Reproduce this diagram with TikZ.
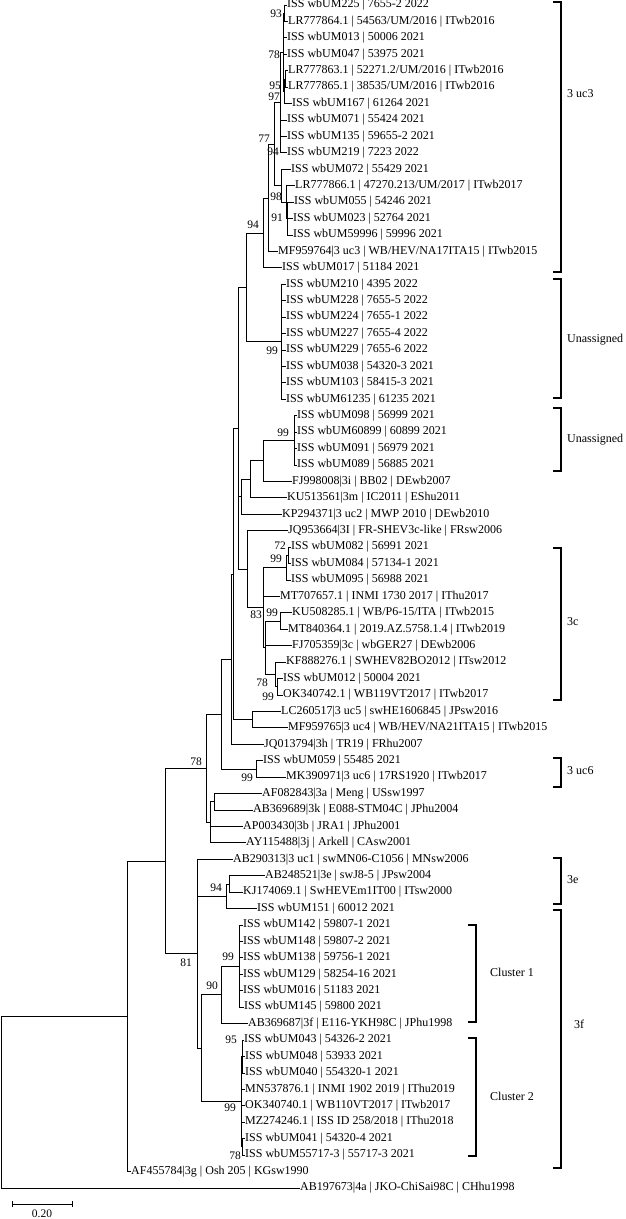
\documentclass[tikz,border=0pt]{standalone}
\usepackage{fontspec}
\setmainfont{Liberation Serif}
\begin{document}
\begin{tikzpicture}[x=1pt,y=-1pt,
  br/.style={line width=1pt,line cap=rect},
  leaf/.style={anchor=west,inner xsep=1pt,inner ysep=0pt,text height=8pt,text depth=2.5pt,font=\fontsize{12}{12}\selectfont},
  bs/.style={inner sep=0pt,font=\fontsize{11.5}{11.5}\selectfont},
  bk/.style={line width=1.3pt},
  grp/.style={anchor=west,inner sep=0pt,font=\fontsize{12}{12}\selectfont}]
\useasboundingbox (0,0) rectangle (626,1219);
\newcommand\lf[4]{\node[leaf] (#1) at (#2-1,#3) {#4};}
% leaves
\lf{l1}{287}{5.0}{ISS wbUM225 | 7655-2 2022}
\lf{l2}{288}{21.4}{LR777864.1 | 54563/UM/2016 | ITwb2016}
\lf{l3}{287}{37.9}{ISS wbUM013 | 50006 2021}
\lf{l4}{287}{54.3}{ISS wbUM047 | 53975 2021}
\lf{l5}{288}{70.7}{LR777863.1 | 52271.2/UM/2016 | ITwb2016}
\lf{l6}{288}{87.2}{LR777865.1 | 38535/UM/2016 | ITwb2016}
\lf{l7}{292}{103.6}{ISS wbUM167 | 61264 2021}
\lf{l8}{287}{120.0}{ISS wbUM071 | 55424 2021}
\lf{l9}{287}{136.4}{ISS wbUM135 | 59655-2 2021}
\lf{l10}{287}{152.9}{ISS wbUM219 | 7223 2022}
\lf{l11}{291}{169.3}{ISS wbUM072 | 55429 2021}
\lf{l12}{295}{185.7}{LR777866.1 | 47270.213/UM/2017 | ITwb2017}
\lf{l13}{294}{202.2}{ISS wbUM055 | 54246 2021}
\lf{l14}{293}{218.6}{ISS wbUM023 | 52764 2021}
\lf{l15}{293}{235.0}{ISS wbUM59996 | 59996 2021}
\lf{l16}{278}{251.5}{MF959764|3 uc3 | WB/HEV/NA17ITA15 | ITwb2015}
\lf{l17}{282}{267.9}{ISS wbUM017 | 51184 2021}
\lf{l18}{286}{284.3}{ISS wbUM210 | 4395 2022}
\lf{l19}{286}{300.7}{ISS wbUM228 | 7655-5 2022}
\lf{l20}{286}{317.2}{ISS wbUM224 | 7655-1 2022}
\lf{l21}{286}{333.6}{ISS wbUM227 | 7655-4 2022}
\lf{l22}{286}{350.0}{ISS wbUM229 | 7655-6 2022}
\lf{l23}{286}{366.5}{ISS wbUM038 | 54320-3 2021}
\lf{l24}{286}{382.9}{ISS wbUM103 | 58415-3 2021}
\lf{l25}{286}{399.3}{ISS wbUM61235 | 61235 2021}
\lf{l26}{297}{415.8}{ISS wbUM098 | 56999 2021}
\lf{l27}{297}{432.2}{ISS wbUM60899 | 60899 2021}
\lf{l28}{297}{448.6}{ISS wbUM091 | 56979 2021}
\lf{l29}{297}{465.0}{ISS wbUM089 | 56885 2021}
\lf{l30}{292}{481.5}{FJ998008|3i | BB02 | DEwb2007}
\lf{l31}{287}{497.9}{KU513561|3m | IC2011 | EShu2011}
\lf{l32}{282}{514.3}{KP294371|3 uc2 | MWP 2010 | DEwb2010}
\lf{l33}{288}{530.8}{JQ953664|3I | FR-SHEV3c-like | FRsw2006}
\lf{l34}{291}{547.2}{ISS wbUM082 | 56991 2021}
\lf{l35}{291}{563.6}{ISS wbUM084 | 57134-1 2021}
\lf{l36}{291}{580.1}{ISS wbUM095 | 56988 2021}
\lf{l37}{280}{596.5}{MT707657.1 | INMI 1730 2017 | IThu2017}
\lf{l38}{292}{612.9}{KU508285.1 | WB/P6-15/ITA | ITwb2015}
\lf{l39}{288}{629.3}{MT840364.1 | 2019.AZ.5758.1.4 | ITwb2019}
\lf{l40}{292}{645.8}{FJ705359|3c | wbGER27 | DEwb2006}
\lf{l41}{286}{662.2}{KF888276.1 | SWHEV82BO2012 | ITsw2012}
\lf{l42}{283}{678.6}{ISS wbUM012 | 50004 2021}
\lf{l43}{283}{695.1}{OK340742.1 | WB119VT2017 | ITwb2017}
\lf{l44}{281}{711.5}{LC260517|3 uc5 | swHE1606845 | JPsw2016}
\lf{l45}{288}{727.9}{MF959765|3 uc4 | WB/HEV/NA21ITA15 | ITwb2015}
\lf{l46}{264}{744.4}{JQ013794|3h | TR19 | FRhu2007}
\lf{l47}{263}{760.8}{ISS wbUM059 | 55485 2021}
\lf{l48}{286}{777.2}{MK390971|3 uc6 | 17RS1920 | ITwb2017}
\lf{l49}{262}{793.6}{AF082843|3a | Meng | USsw1997}
\lf{l50}{253}{810.1}{AB369689|3k | E088-STM04C | JPhu2004}
\lf{l51}{243}{826.5}{AP003430|3b | JRA1 | JPhu2001}
\lf{l52}{246}{842.9}{AY115488|3j | Arkell | CAsw2001}
\lf{l53}{233}{859.4}{AB290313|3 uc1 | swMN06-C1056 | MNsw2006}
\lf{l54}{265}{875.8}{AB248521|3e | swJ8-5 | JPsw2004}
\lf{l55}{243}{892.2}{KJ174069.1 | SwHEVEm1IT00 | ITsw2000}
\lf{l56}{257}{908.7}{ISS wbUM151 | 60012 2021}
\lf{l57}{243}{925.1}{ISS wbUM142 | 59807-1 2021}
\lf{l58}{243}{941.5}{ISS wbUM148 | 59807-2 2021}
\lf{l59}{243}{957.9}{ISS wbUM138 | 59756-1 2021}
\lf{l60}{243}{974.4}{ISS wbUM129 | 58254-16 2021}
\lf{l61}{243}{990.8}{ISS wbUM016 | 51183 2021}
\lf{l62}{244}{1007.2}{ISS wbUM145 | 59800 2021}
\lf{l63}{248}{1023.7}{AB369687|3f | E116-YKH98C | JPhu1998}
\lf{l64}{244}{1040.1}{ISS wbUM043 | 54326-2 2021}
\lf{l65}{245}{1056.5}{ISS wbUM048 | 53933 2021}
\lf{l66}{245}{1073.0}{ISS wbUM040 | 554320-1 2021}
\lf{l67}{245}{1089.4}{MN537876.1 | INMI 1902 2019 | IThu2019}
\lf{l68}{245}{1105.8}{OK340740.1 | WB110VT2017 | ITwb2017}
\lf{l69}{245}{1122.2}{MZ274246.1 | ISS ID 258/2018 | IThu2018}
\lf{l70}{245}{1138.7}{ISS wbUM041 | 54320-4 2021}
\lf{l71}{245}{1155.1}{ISS wbUM55717-3 | 55717-3 2021}
\lf{l72}{131}{1171.5}{AF455784|3g | Osh 205 | KGsw1990}
\lf{l73}{300}{1188.0}{AB197673|4a | JKO-ChiSai98C | CHhu1998}
% internal nodes
\coordinate (root) at (1.7,1102);
\coordinate (R1) at (127.7,1016.3);
\coordinate (R2) at (165,861.1);
\coordinate (N78) at (206.7,768.4);
\coordinate (X0) at (221.7,714.1);
\coordinate (X1) at (231.7,659.2);
\coordinate (Y) at (233.3,574.1);
\coordinate (Z) at (238.5,428.5);
\coordinate (G) at (246,287.6);
\coordinate (A) at (263,233);
\coordinate (B) at (268,198);
\coordinate (C) at (274,144.4);
\coordinate (T) at (280.5,102.6);
\coordinate (T1) at (283,52.3);
\coordinate (s93) at (284,13.2);
\coordinate (s97) at (284.5,91.3);
\coordinate (s95) at (285,79);
\coordinate (L) at (281.7,185.7);
\coordinate (P2) at (286,202.2);
\coordinate (s91) at (287.5,218.6);
\coordinate (U1) at (281.7,341.8);
\coordinate (Q3) at (241.7,496.9);
\coordinate (Q2) at (250,479.4);
\coordinate (Q1) at (263.3,460.9);
\coordinate (U2) at (294,440.4);
\coordinate (W) at (247.7,569.3);
\coordinate (C3) at (263.3,607.8);
\coordinate (A82) at (286,567.7);
\coordinate (s72) at (288,555.4);
\coordinate (D) at (265,647.8);
\coordinate (KM) at (280,621.1);
\coordinate (K2) at (275,674.5);
\coordinate (K3) at (277.5,686.9);
\coordinate (uc45) at (252,719.7);
\coordinate (uc6) at (256,769);
\coordinate (N3) at (210,822.4);
\coordinate (s3ak) at (214,801.9);
\coordinate (N81) at (197,953.9);
\coordinate (E0) at (226,896);
\coordinate (E1) at (229,884);
\coordinate (F0) at (201,1048.3);
\coordinate (F90) at (221,994.9);
\coordinate (Cl1) at (239,966.2);
\coordinate (Cl2) at (241.5,1101.7);
\coordinate (s95b) at (242.8,1056.5);
\coordinate (s78) at (242.5,1146.9);
% branches to internal nodes
\foreach \p/\c in {root/R1,R1/R2,R2/N78,R2/N81,N78/X0,N78/N3,X0/X1,X0/uc6,X1/Y,Y/Z,Y/uc45,
  Z/G,Z/Q3,Z/W,G/A,G/U1,A/B,B/C,C/T,C/L,T/T1,T1/s93,T1/s97,s97/s95,L/P2,P2/s91,
  Q3/Q2,Q2/Q1,Q1/U2,W/C3,C3/A82,C3/D,A82/s72,D/KM,D/K2,K2/K3,N3/s3ak,N81/E0,N81/F0,
  E0/E1,F0/F90,F0/Cl2,F90/Cl1,Cl2/s95b,Cl2/s78}
  {\draw[br] (\p) |- (\c);}
% branches to leaves
\foreach \p/\c in {root/l73,R1/l72,X1/l46,A/l17,B/l16,T/l8,T/l9,T/l10,T1/l3,T1/l4,
  s93/l1,s93/l2,s97/l7,s95/l5,s95/l6,L/l11,P2/l12,s91/l13,s91/l14,s91/l15,
  U1/l18,U1/l19,U1/l20,U1/l21,U1/l22,U1/l23,U1/l24,U1/l25,
  Q3/l32,Q2/l31,Q1/l30,U2/l26,U2/l27,U2/l28,U2/l29,W/l33,C3/l37,s72/l34,s72/l35,A82/l36,
  KM/l38,KM/l39,D/l40,K2/l41,K3/l42,K3/l43,uc45/l44,uc45/l45,uc6/l47,uc6/l48,
  s3ak/l49,s3ak/l50,N3/l51,N3/l52,N81/l53,E1/l54,E1/l55,E0/l56,
  Cl1/l57,Cl1/l58,Cl1/l59,Cl1/l60,Cl1/l61,Cl1/l62,F90/l63,
  s95b/l64,s95b/l65,s95b/l66,Cl2/l67,Cl2/l68,Cl2/l69,s78/l70,s78/l71}
  {\draw[br] (\p) |- (\c.west);}
% bootstrap values
\foreach \v/\x/\y in {93/276/14,78/274/55,95/275/86,97/274/97,77/264/139,94/273/152,
  98/276/197,91/277/218,94/253/225,99/272/351,99/283/433,72/280/546,99/276/559,
  83/256/615,99/272/613,78/262/683,99/268/697,78/196/762,99/247/778,94/216/888,
  81/186/963,99/228/957,90/212/986,95/231/1040,99/230/1108,78/235/1156}
  {\node[bs] at (\x,\y) {\v};}
% scale bar
\coordinate (sb1) at (12,1204);
\coordinate (sb2) at (72,1204);
\draw[br] (sb1) -- (sb2);
\draw[br] ([yshift=-2.5pt]sb1) -- ([yshift=2.5pt]sb1);
\draw[br] ([yshift=-2.5pt]sb2) -- ([yshift=2.5pt]sb2);
\node[bs] (sbl) at (42,1214) {0.20};
% group brackets
\foreach \a/\b/\ly/\t in {2/272/94/3 uc3,279/398/340/Unassigned,408/471/440/Unassigned,
  548/700/622/3c,758/787/771/3 uc6,858/904/880/3e}
  {\draw[bk] (553,\a) -- (561,\a) -- (561,\b) -- (553,\b);
   \node[grp] at (567,\ly) {\t};}
\draw[bk] (553,910) -- (561,910) -- (561,1168) -- (553,1168);
\node[grp] at (574,1024) {3f};
\draw[bk] (468,925) -- (476,925) -- (476,1022) -- (468,1022);
\node[grp] at (490,972) {Cluster 1};
\draw[bk] (468,1038) -- (476,1038) -- (476,1156) -- (468,1156);
\node[grp] at (490,1096) {Cluster 2};
\end{tikzpicture}
\end{document}
